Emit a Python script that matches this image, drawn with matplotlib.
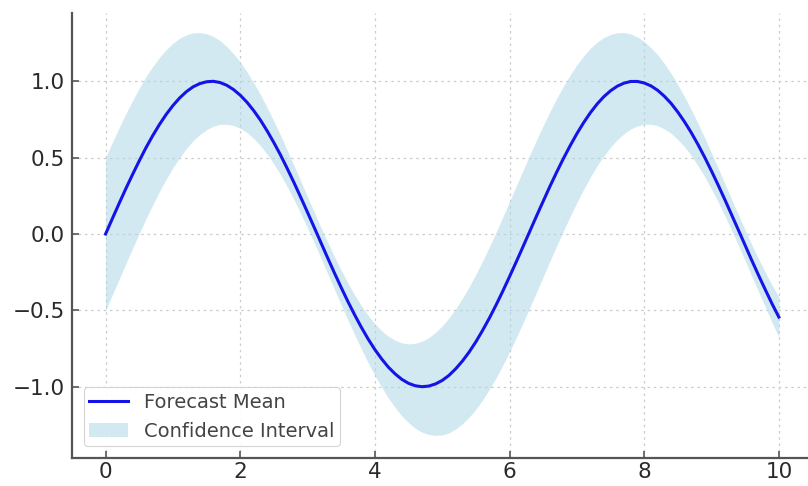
import numpy as np
import matplotlib
matplotlib.use('Agg')
import matplotlib.pyplot as plt

# forecast, x from 0 to 10 in steps of 0.1
x_vals = np.linspace(0, 10, 101)
forecast_mean = [
    0.000, 0.100, 0.199, 0.296, 0.389, 0.479, 0.565, 0.644, 0.717, 0.783,
    0.841, 0.891, 0.932, 0.964, 0.985, 0.997, 1.000, 0.992, 0.974, 0.946,
    0.909, 0.863, 0.808, 0.746, 0.675, 0.598, 0.516, 0.427, 0.335, 0.239,
    0.141, 0.042, -0.058, -0.158, -0.256, -0.351, -0.443, -0.530, -0.612, -0.688,
    -0.757, -0.818, -0.872, -0.916, -0.952, -0.978, -0.994, -1.000, -0.996, -0.982,
    -0.959, -0.926, -0.883, -0.832, -0.773, -0.706, -0.631, -0.551, -0.465, -0.374,
    -0.279, -0.182, -0.083, 0.017, 0.117, 0.215, 0.312, 0.405, 0.494, 0.578,
    0.657, 0.729, 0.794, 0.851, 0.899, 0.938, 0.968, 0.988, 0.999, 0.999,
    0.989, 0.970, 0.941, 0.902, 0.855, 0.798, 0.734, 0.663, 0.585, 0.501,
    0.412, 0.319, 0.223, 0.124, 0.025, -0.075, -0.175, -0.272, -0.366, -0.458,
    -0.544]
# half width of the confidence band
band_half = [
    0.500, 0.499, 0.496, 0.491, 0.484, 0.476, 0.465, 0.453, 0.439, 0.424,
    0.408, 0.391, 0.372, 0.353, 0.334, 0.314, 0.294, 0.274, 0.255, 0.235,
    0.217, 0.199, 0.182, 0.167, 0.153, 0.140, 0.129, 0.119, 0.112, 0.106,
    0.102, 0.100, 0.100, 0.103, 0.107, 0.113, 0.121, 0.130, 0.142, 0.155,
    0.169, 0.185, 0.202, 0.220, 0.239, 0.258, 0.278, 0.298, 0.317, 0.337,
    0.357, 0.376, 0.394, 0.411, 0.427, 0.442, 0.455, 0.467, 0.477, 0.485,
    0.492, 0.497, 0.499, 0.500, 0.499, 0.495, 0.490, 0.483, 0.474, 0.463,
    0.451, 0.437, 0.422, 0.405, 0.388, 0.369, 0.350, 0.331, 0.311, 0.291,
    0.271, 0.251, 0.232, 0.214, 0.196, 0.180, 0.164, 0.150, 0.138, 0.127,
    0.118, 0.110, 0.105, 0.101, 0.100, 0.101, 0.103, 0.108, 0.114, 0.122,
    0.132]

mean = np.array(forecast_mean)
half = np.array(band_half)

fig = plt.figure(figsize=(8.08, 4.86), dpi=100)
ax = fig.add_axes([0.089, 0.0576, 0.9166, 0.9165])

ax.plot(x_vals, mean, color='#1414e6', linewidth=2.2, label='Forecast Mean', zorder=3)
ax.fill_between(x_vals, mean - half, mean + half, color='lightblue', alpha=0.55,
                linewidth=0, label='Confidence Interval', zorder=2)

ax.set_xlim(-0.5, 10.5)
ax.set_ylim(-1.467, 1.45)
ax.set_xticks([0, 2, 4, 6, 8, 10])
ax.set_yticks([-1.0, -0.5, 0.0, 0.5, 1.0])

ax.grid(True, linestyle=(0, (2, 3)), color='#cccccc', linewidth=0.9)
ax.set_axisbelow(True)
for side in ['top', 'right']:
    ax.spines[side].set_visible(False)
for side in ['left', 'bottom']:
    ax.spines[side].set_color('#555555')
    ax.spines[side].set_linewidth(1.6)
ax.tick_params(colors='#555555', labelsize=15.5, length=5, width=1.2,
               direction='in')
ax.tick_params(axis='x', pad=3)
ax.tick_params(axis='y', pad=5)
for lab in ax.get_xticklabels() + ax.get_yticklabels():
    lab.set_color('#2a2a2a')

leg = ax.legend(loc='lower left', fontsize=14, frameon=True, fancybox=True,
                framealpha=0.9, edgecolor='#d0d0d0',
                borderaxespad=0.6, borderpad=0.3)
leg.get_frame().set_linewidth(0.8)
for t in leg.get_texts():
    t.set_color('#444444')

fig.savefig('out.png', dpi=100)
